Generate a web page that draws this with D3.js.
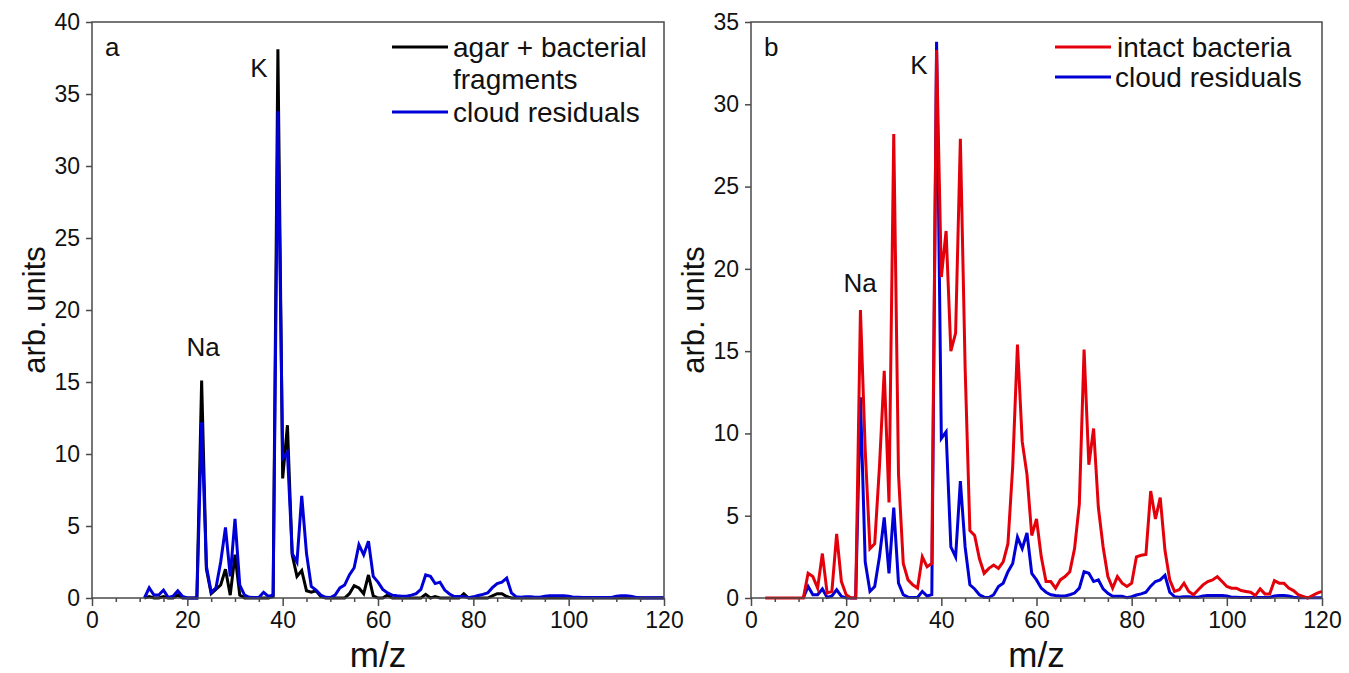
<!DOCTYPE html>
<html>
<head>
<meta charset="utf-8">
<script src="https://cdn.jsdelivr.net/npm/d3@7"></script>
<style>
  html, body { margin: 0; padding: 0; background: #fff; }
  svg { display: block; font-family: "Liberation Sans", Arial, sans-serif; }
</style>
</head>
<body>
<svg id="chart" width="1349" height="673"></svg>
<script>
// m/z grid of the cloud-residual and agar spectra
const mzCloud = [
  11, 12, 13, 14, 15, 16, 17, 18, 19, 20,
  21, 22, 23, 24, 25, 26, 27, 28, 29, 30,
  31, 32, 33, 34, 35, 36, 37, 38, 39, 40,
  41, 42, 43, 44, 45, 46, 47, 48, 49, 50,
  51, 52, 53, 54, 55, 56, 57, 58, 59, 60,
  61, 62, 63, 64, 65, 66, 67, 68, 69, 70,
  71, 72, 73, 74, 75, 76, 77, 78, 79, 80,
  81, 82, 83, 84, 85, 86, 87, 88, 89, 90,
  91, 92, 93, 94, 95, 96, 97, 98, 99, 100,
  101, 102, 103, 104, 105, 106, 107, 108, 109, 110,
  111, 112, 113, 114, 115, 116, 117, 118, 119, 120
];

// cloud residuals (shown in both panels)
const cloudResiduals = [
  0, 0.7, 0.2, 0.2, 0.55, 0.03, 0.12, 0.5, 0.1, 0,
  0, 0, 12.2, 2.2, 0.4, 0.7, 2.5, 4.9, 1.5, 5.5,
  0.9, 0.2, 0.05, 0.03, 0.03, 0.4, 0.12, 0.2, 33.8, 9.7,
  10.1, 3.1, 2.5, 7.1, 3.1, 0.8, 0.55, 0.2, 0.05, 0.03,
  0.2, 0.7, 0.9, 1.6, 2.1, 3.7, 3.0, 3.95, 1.5, 1.1,
  0.6, 0.35, 0.2, 0.15, 0.12, 0.12, 0.2, 0.3, 0.6, 1.6,
  1.5, 1.0, 1.1, 0.55, 0.28, 0.1, 0.1, 0.1, 0.02, 0.08,
  0.18, 0.25, 0.35, 0.72, 1.0, 1.1, 1.38, 0.35, 0.08, 0.05,
  0.08, 0.08, 0.05, 0.05, 0.12, 0.15, 0.15, 0.15, 0.15, 0.12,
  0.05, 0.05, 0.03, 0.03, 0.03, 0.03, 0.03, 0.03, 0.03, 0.12,
  0.15, 0.15, 0.12, 0.05, 0.02, 0.02, 0.02, 0.02, 0.02, 0.02
];

// agar + bacterial fragments (panel a)
const agarFragments = [
  0, 0.1, 0, 0, 0.1, 0, 0, 0.2, 0, 0,
  0, 0, 15.1, 2.0, 0.3, 0.6, 0.9, 2.0, 0.2, 3.0,
  0.2, 0, 0, 0, 0, 0, 0, 0.1, 38.1, 8.3,
  12.0, 3.0, 1.5, 1.9, 0.5, 0.4, 0.5, 0.1, 0, 0,
  0, 0, 0, 0.3, 0.85, 0.7, 0.3, 1.6, 0.15, 0,
  0, 0.2, 0, 0, 0, 0, 0, 0, 0, 0.25,
  0, 0.1, 0, 0, 0, 0, 0, 0.3, 0, 0,
  0, 0, 0, 0.15, 0.3, 0.3, 0.1, 0, 0, 0,
  0, 0, 0, 0, 0, 0, 0, 0, 0, 0,
  0, 0, 0, 0, 0, 0, 0, 0, 0, 0,
  0, 0, 0, 0, 0, 0, 0, 0, 0, 0
];

// m/z grid of the intact-bacteria spectrum
const mzIntact = [
  3, 4, 5, 6, 7, 8, 9, 10,
  11, 12, 13, 14, 15, 16, 17, 18, 19, 20,
  21, 22, 23, 24, 25, 26, 27, 28, 29, 30,
  31, 32, 33, 34, 35, 36, 37, 38, 39, 40,
  41, 42, 43, 44, 45, 46, 47, 48, 49, 50,
  51, 52, 53, 54, 55, 56, 57, 58, 59, 60,
  61, 62, 63, 64, 65, 66, 67, 68, 69, 70,
  71, 72, 73, 74, 75, 76, 77, 78, 79, 80,
  81, 82, 83, 84, 85, 86, 87, 88, 89, 90,
  91, 92, 93, 94, 95, 96, 97, 98, 99, 100,
  101, 102, 103, 104, 105, 106, 107, 108, 109, 110,
  111, 112, 113, 114, 115, 116, 117, 118, 119, 120
];

// intact bacteria (panel b)
const intactBacteria = [
  0, 0, 0, 0, 0, 0, 0, 0,
  0, 1.5, 1.3, 0.6, 2.7, 0.3, 0.4, 3.9, 1.0, 0.2,
  0, 0, 17.5, 9, 3.0, 3.3, 8, 13.8, 5.8, 28.2,
  7.5, 2.1, 1.1, 0.8, 0.6, 2.5, 1.9, 2.1, 33.3, 19.5,
  22.3, 15.0, 16.1, 27.9, 14, 4.1, 3.8, 2.4, 1.5, 1.8,
  2.0, 1.8, 2.2, 3.3, 8, 15.4, 9.5, 7.5, 3.8, 4.8,
  2.5, 1.0, 1.0, 0.6, 1.1, 1.3, 1.6, 3.0, 5.7, 15.1,
  8.1, 10.3, 5.5, 3.1, 1.3, 0.6, 1.3, 0.9, 0.7, 0.9,
  2.5, 2.6, 2.65, 6.5, 4.8, 6.1, 2.9, 1.1, 0.4, 0.5,
  0.9, 0.4, 0.2, 0.5, 0.8, 1.0, 1.1, 1.3, 1.0, 0.7,
  0.6, 0.6, 0.45, 0.4, 0.35, 0.15, 0.55, 0.25, 0.25, 1.05,
  0.9, 0.9, 0.6, 0.45, 0.2, 0.1, 0.0, 0.15, 0.3, 0.4
];

// axis ticks
const xMajorTicks = [0, 20, 40, 60, 80, 100, 120];
const xMinorTicks = [5, 10, 15, 25, 30, 35, 45, 50, 55, 65, 70, 75, 85, 90, 95, 105, 110, 115];
const yTicksA = [0, 5, 10, 15, 20, 25, 30, 35, 40];
const yTicksB = [0, 5, 10, 15, 20, 25, 30, 35];

const COLORS = { black: "#000000", blue: "#0000d6", red: "#e3000b", axis: "#4a4a4a" };

const svg = d3.select("#chart");

function zip(mz, vals) {
  return mz.map((m, i) => ({ mz: m, v: vals[i] }));
}

function drawPanel(opt) {
  const x = d3.scaleLinear().domain([0, 120]).range([opt.left, opt.right]);
  const y = d3.scaleLinear().domain([0, opt.yMax]).range([598, 22]);
  const g = svg.append("g");

  // spectra
  const line = d3.line().x(d => x(d.mz)).y(d => y(d.v));
  opt.series.forEach(s => {
    g.append("path")
      .datum(zip(s.mz, s.values))
      .attr("d", line)
      .attr("fill", "none")
      .attr("stroke", s.color)
      .attr("stroke-width", 3)
      .attr("stroke-linejoin", "miter");
  });

  // frame
  g.append("rect")
    .attr("x", opt.left).attr("y", 22)
    .attr("width", opt.right - opt.left).attr("height", 576)
    .attr("fill", "none").attr("stroke", COLORS.axis).attr("stroke-width", 1.5);

  // axes
  const xMinor = g.append("g").attr("transform", "translate(0,598)")
    .call(d3.axisBottom(x).tickValues(xMinorTicks).tickSize(4).tickFormat(() => ""));
  const xMajor = g.append("g").attr("transform", "translate(0,598)")
    .call(d3.axisBottom(x).tickValues(xMajorTicks).tickSize(8).tickPadding(6).tickFormat(d3.format("d")));
  const yAxis = g.append("g").attr("transform", `translate(${opt.left},0)`)
    .call(d3.axisLeft(y).tickValues(opt.yTicks).tickSize(6).tickPadding(6).tickFormat(d3.format("d")));

  [xMinor, xMajor, yAxis].forEach(a => {
    a.select(".domain").remove();
    a.selectAll("line").attr("stroke", COLORS.axis).attr("stroke-width", 1.5);
    a.selectAll("text").attr("fill", "#111").style("font-size", "23px")
      .style("font-family", '"Liberation Sans", Arial, sans-serif');
  });

  // axis titles
  const mid = (opt.left + opt.right) / 2;
  g.append("text").attr("x", mid).attr("y", 667)
    .attr("text-anchor", "middle").style("font-size", "35px").attr("fill", "#111")
    .text("m/z");
  g.append("text")
    .attr("transform", `translate(${opt.left - 47},310) rotate(-90)`)
    .attr("text-anchor", "middle").style("font-size", "31px").attr("fill", "#111")
    .text("arb. units");

  // annotations
  opt.notes.forEach(n => {
    g.append("text").attr("x", n.x).attr("y", n.y)
      .attr("text-anchor", n.anchor || "start")
      .style("font-size", "26px").attr("fill", "#111").text(n.text);
  });

  // legend
  opt.legend.forEach(l => {
    if (l.color) {
      g.append("line")
        .attr("x1", l.x1).attr("x2", l.x2).attr("y1", l.ly).attr("y2", l.ly)
        .attr("stroke", l.color).attr("stroke-width", 3);
    }
    g.append("text").attr("x", l.tx).attr("y", l.ty)
      .style("font-size", "28px").attr("fill", "#111").text(l.text);
  });
}

// panel a
drawPanel({
  left: 92, right: 664, yMax: 40, yTicks: yTicksA,
  series: [
    { mz: mzCloud, values: agarFragments, color: COLORS.black },
    { mz: mzCloud, values: cloudResiduals, color: COLORS.blue }
  ],
  notes: [
    { text: "a", x: 105, y: 56 },
    { text: "K", x: 259, y: 77, anchor: "middle" },
    { text: "Na", x: 203, y: 356, anchor: "middle" }
  ],
  legend: [
    { color: COLORS.black, x1: 392, x2: 448, ly: 47, text: "agar + bacterial", tx: 453, ty: 57 },
    { color: null, text: "fragments", tx: 453, ty: 89 },
    { color: COLORS.blue, x1: 392, x2: 448, ly: 112, text: "cloud residuals", tx: 453, ty: 122 }
  ]
});

// panel b
drawPanel({
  left: 751, right: 1322, yMax: 35, yTicks: yTicksB,
  series: [
    { mz: mzCloud, values: cloudResiduals, color: COLORS.blue },
    { mz: mzIntact, values: intactBacteria, color: COLORS.red }
  ],
  notes: [
    { text: "b", x: 764, y: 56 },
    { text: "K", x: 919, y: 74, anchor: "middle" },
    { text: "Na", x: 860, y: 292, anchor: "middle" }
  ],
  legend: [
    { color: COLORS.red, x1: 1055, x2: 1111, ly: 47, text: "intact bacteria", tx: 1117, ty: 57 },
    { color: COLORS.blue, x1: 1055, x2: 1111, ly: 77, text: "cloud residuals", tx: 1115, ty: 87 }
  ]
});
</script>
</body>
</html>
